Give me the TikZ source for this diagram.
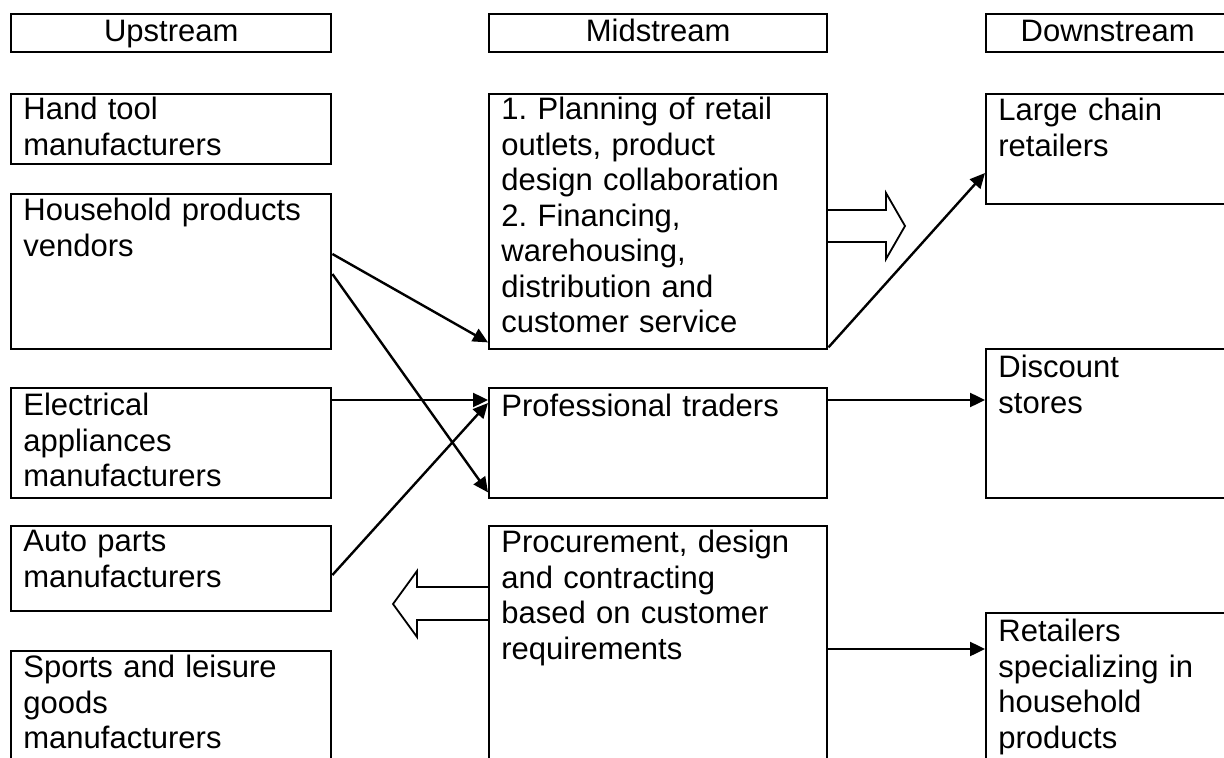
\documentclass[tikz,border=0pt]{standalone}
\usepackage{fontspec}
\setmainfont{Liberation Sans}
\usetikzlibrary{arrows.meta}
\frenchspacing

\begin{document}
\begin{tikzpicture}[x=0.5pt,y=-0.5pt,
    box/.style={draw,line width=1.2pt,anchor=north west,inner sep=0pt},
    headbox/.style={box,minimum height=19pt,text height=11pt,text depth=3pt,font=\fontsize{15.5pt}{17.75pt}\selectfont},
    txt/.style={anchor=north west,align=left,inner sep=0pt,text width=160pt,font=\fontsize{15.5pt}{17.75pt}\selectfont},
    arr/.style={line width=1.2pt,-{Triangle[length=7.5pt,width=7pt]}},
    hollow/.style={draw,line width=0.9pt,line join=miter}]
  \useasboundingbox (0,0) rectangle (1224,758);
  \clip (0,0) rectangle (1224,758);

  \node[headbox,minimum width=160pt] (uphead) at (10,13) {Upstream};
  \node[headbox,minimum width=169pt] (midhead) at (488,13) {Midstream};
  \node[headbox,minimum width=121.5pt] (downhead) at (985,13) {Downstream};

  \node[box,minimum width=160pt,minimum height=35pt] (hand) at (10,93) {};
  \node[txt] (handtext) at ([shift={(6.5pt,-2pt)}]hand.north west) {Hand tool\\manufacturers};
  \node[box,minimum width=160pt,minimum height=77.5pt] (household) at (10,193) {};
  \node[txt] (householdtext) at ([shift={(6.5pt,-2.5pt)}]household.north west) {Household products\\vendors};
  \node[box,minimum width=160pt,minimum height=55pt] (electrical) at (10,387) {};
  \node[txt] (electricaltext) at ([shift={(6.5pt,-3pt)}]electrical.north west) {Electrical\\appliances\\manufacturers};
  \node[box,minimum width=160pt,minimum height=42.5pt] (auto) at (10,525) {};
  \node[txt] (autotext) at ([shift={(6.5pt,-2.5pt)}]auto.north west) {Auto parts\\manufacturers};
  \node[box,minimum width=160pt,minimum height=75pt] (sports) at (10,650) {};
  \node[txt] (sportstext) at ([shift={(6.5pt,-2.5pt)}]sports.north west) {Sports and leisure\\goods\\manufacturers};

  \node[box,minimum width=169pt,minimum height=127.5pt] (plan) at (488,93) {};
  \node[txt] (plantext) at ([shift={(6.5pt,-2pt)}]plan.north west) {1. Planning of retail\\outlets, product\\design collaboration\\2. Financing,\\warehousing,\\distribution and\\customer service};
  \node[box,minimum width=169pt,minimum height=55pt] (traders) at (488,387) {};
  \node[txt] (traderstext) at ([shift={(6.5pt,-3.5pt)}]traders.north west) {Professional traders};
  \node[box,minimum width=169pt,minimum height=137.5pt] (procure) at (488,525) {};
  \node[txt] (procuretext) at ([shift={(6.5pt,-2.5pt)}]procure.north west) {Procurement, design\\and contracting\\based on customer\\requirements};

  \node[box,minimum width=121.5pt,minimum height=55pt] (chain) at (985,93) {};
  \node[txt] (chaintext) at ([shift={(6.5pt,-2.5pt)}]chain.north west) {Large chain\\retailers};
  \node[box,minimum width=121.5pt,minimum height=74.5pt] (discount) at (985,348) {};
  \node[txt] (discounttext) at ([shift={(6.5pt,-3.5pt)}]discount.north west) {Discount\\stores};
  \node[box,minimum width=121.5pt,minimum height=94pt] (specialty) at (985,612) {};
  \node[txt] (specialtytext) at ([shift={(6.5pt,-3.5pt)}]specialty.north west) {Retailers\\specializing in\\household\\products};

  \draw[arr] ([yshift=-30.5pt]household.north east) -- ([yshift=4pt]plan.south west);
  \draw[arr] ([yshift=-40.5pt]household.north east) -- ([yshift=3.5pt]traders.south west);
  \draw[arr] ([yshift=-6.5pt]electrical.north east) -- ([yshift=-6.5pt]traders.north west);
  \draw[arr] ([yshift=-25pt]auto.north east) -- ([yshift=-8pt]traders.north west);
  \draw[arr] ([yshift=1.5pt]plan.south east) -- ([yshift=-40pt]chain.north west);
  \draw[arr] ([yshift=-6.5pt]traders.north east) -- ([yshift=-26pt]discount.north west);
  \draw[arr] ([yshift=-62pt]procure.north east) -- ([yshift=-18.5pt]specialty.north west);

  \draw[hollow] (826,210) -- (886,210) -- (886,193) -- (905,226) -- (886,259) -- (886,242) -- (826,242);
  \draw[hollow] (488,587) -- (417,587) -- (417,571) -- (393,604) -- (417,637) -- (417,620) -- (488,620);
\end{tikzpicture}
\end{document}
